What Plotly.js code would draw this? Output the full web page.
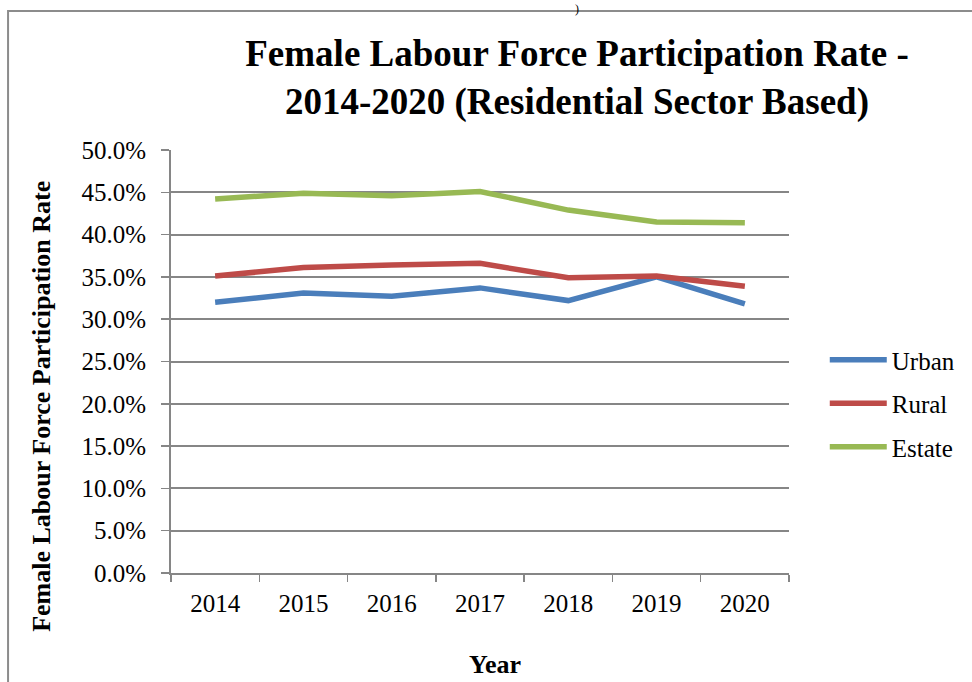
<!DOCTYPE html>
<html>
<head>
<meta charset="utf-8">
<script src="https://cdn.plot.ly/plotly-3.0.1.min.js"></script>
<style>
  html, body { margin: 0; padding: 0; background: #ffffff; }
  #chart { width: 972px; height: 682px; }
</style>
</head>
<body>
<div id="chart"></div>
<script>
const years = ['2014', '2015', '2016', '2017', '2018', '2019', '2020'];
const urban = [32.0, 33.1, 32.7, 33.7, 32.2, 35.0, 31.8];
const rural = [35.1, 36.1, 36.4, 36.6, 34.9, 35.1, 33.9];
const estate = [44.2, 44.9, 44.6, 45.1, 42.9, 41.5, 41.4];
const seriesNames = ['Urban', 'Rural', 'Estate'];
const seriesColors = ['#4a7ebb', '#be4b48', '#98b954'];
const yTicks = [0, 5, 10, 15, 20, 25, 30, 35, 40, 45, 50];

const font = 'Liberation Serif, Times New Roman, serif';
const allSeries = [urban, rural, estate];

const traces = allSeries.map((vals, i) => ({
  type: 'scatter',
  mode: 'lines',
  x: years,
  y: vals,
  name: seriesNames[i],
  legendgroup: 'g' + i,
  line: { color: seriesColors[i], width: 5.5 },
  hoverinfo: 'skip'
}));

// plot area geometry in px
const L = 171, R = 793, T = 150, B = 573;
const W = 622, H = 423;
const px = v => (v - L) / W;
const py = v => (B - v) / H;

const layout = {
  width: 972,
  height: 682,
  margin: { l: L, r: 972 - R, t: T, b: 682 - B, pad: 0 },
  paper_bgcolor: '#ffffff',
  plot_bgcolor: '#ffffff',
  font: { family: font, color: '#000000', size: 25 },
  title: {
    text: '<b>Female Labour Force Participation Rate -<br>2014-2020 (Residential Sector Based)</b>',
    font: { family: font, size: 37, color: '#000000' },
    x: 577 / 972,
    xanchor: 'center',
    y: 1 - 66 / 682,
    yanchor: 'middle'
  },
  xaxis: {
    type: 'category',
    tickson: 'boundaries',
    ticks: 'outside',
    ticklen: 7,
    tickwidth: 1.5,
    tickcolor: '#868686',
    showline: true,
    linecolor: '#868686',
    linewidth: 2,
    showgrid: false,
    tickfont: { family: font, size: 25, color: '#000000' },
    ticklabelstandoff: 7,
    range: [-0.5, 6.5],
    fixedrange: true
  },
  yaxis: {
    range: [0, 50],
    tickvals: yTicks,
    ticktext: yTicks.map(v => v.toFixed(1) + '%'),
    ticks: 'outside',
    ticklen: 8,
    tickwidth: 1.5,
    tickcolor: '#868686',
    showline: true,
    linecolor: '#868686',
    linewidth: 2,
    showgrid: true,
    gridcolor: '#868686',
    gridwidth: 2,
    zeroline: false,
    tickfont: { family: font, size: 25, color: '#000000' },
    ticklabelstandoff: 10,
    fixedrange: true
  },
  showlegend: true,
  legend: {
    x: px(829),
    xanchor: 'left',
    y: py(337),
    yanchor: 'top',
    font: { family: font, size: 25, color: '#000000' },
    itemwidth: 57,
    tracegroupgap: 8,
    bgcolor: 'rgba(0,0,0,0)',
    borderwidth: 0
  },
  shapes: [
    {
      type: 'rect', xref: 'paper', yref: 'paper',
      x0: px(7), x1: px(1000), y0: py(700), y1: py(11),
      line: { color: '#8c8c8c', width: 2 },
      fillcolor: 'rgba(0,0,0,0)',
      layer: 'below'
    }
  ],
  annotations: [
    {
      text: ')', xref: 'paper', yref: 'paper',
      x: px(580), y: py(0), xanchor: 'center', yanchor: 'top',
      showarrow: false, font: { family: font, size: 12, color: '#000000' }
    },
    {
      text: '<b>Female Labour Force Participation Rate</b>',
      xref: 'paper', yref: 'paper',
      x: px(40), y: py(406), xanchor: 'center', yanchor: 'middle',
      textangle: -90,
      showarrow: false, font: { family: font, size: 26, color: '#000000' }
    },
    {
      text: '<b>Year</b>',
      xref: 'paper', yref: 'paper',
      x: px(497), y: py(664), xanchor: 'center', yanchor: 'middle',
      showarrow: false, font: { family: font, size: 26, color: '#000000' }
    }
  ]
};

Plotly.newPlot('chart', traces, layout, { displayModeBar: false, staticPlot: true });
</script>
</body>
</html>
